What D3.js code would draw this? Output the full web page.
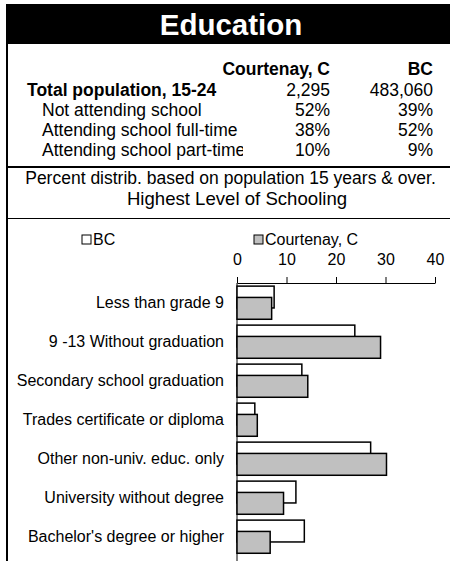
<html>
  <head>
    <meta charset="utf-8">
    <title>Education</title>
    <style>
      body { margin: 0; background: white; }
      svg text { font-family: "Liberation Sans", Arial, Helvetica, sans-serif; fill: black; }
    </style>
    <script src="https://d3js.org/d3.v7.min.js"></script>
  </head>
  <body>
    <svg id="edu"></svg>
    <script>
      // table values
      let rowLabels = ['Total population, 15-24', 'Not attending school',
                       'Attending school full-time', 'Attending school part-time'];
      let courtenayCol = ['2,295', '52%', '38%', '10%'];
      let bcCol = ['483,060', '39%', '52%', '9%'];

      // chart values (percent)
      let categories = ['Less than grade 9', '9 -13 Without graduation', 'Secondary school graduation',
                        'Trades certificate or diploma', 'Other non-univ. educ. only',
                        'University without degree', "Bachelor's degree or higher"];
      let bcValues = [7.5, 23.8, 13.1, 3.6, 27.0, 11.9, 13.6];
      let courtenayValues = [7.0, 29.0, 14.3, 4.1, 30.2, 9.4, 6.7];
      let ticks = [0, 10, 20, 30, 40];

      let width = 450, height = 561;
      let svg = d3.select('#edu').attr('width', width).attr('height', height);

      // title bar
      svg.append('rect').attr('x', 6).attr('y', 4).attr('width', width - 6).attr('height', 40)
        .attr('fill', 'black');
      svg.append('text').attr('x', 231).attr('y', 35).attr('text-anchor', 'middle')
        .style('font-size', '29.5px').style('font-weight', 'bold').style('fill', 'white')
        .text('Education');

      // left border and separators
      svg.append('line').attr('x1', 7).attr('x2', 7).attr('y1', 4).attr('y2', height)
        .attr('stroke', 'black').attr('stroke-width', 2);
      svg.append('line').attr('x1', 6).attr('x2', width).attr('y1', 167).attr('y2', 167)
        .attr('stroke', 'black').attr('stroke-width', 2);
      svg.append('line').attr('x1', 6).attr('x2', width).attr('y1', 218.5).attr('y2', 218.5)
        .attr('stroke', 'black').attr('stroke-width', 1);

      // table
      let col1 = 330, col2 = 433;
      svg.append('text').attr('x', col1).attr('y', 75).attr('text-anchor', 'end')
        .style('font-size', '17.5px').style('font-weight', 'bold').text('Courtenay, C');
      svg.append('text').attr('x', col2).attr('y', 75).attr('text-anchor', 'end')
        .style('font-size', '17.5px').style('font-weight', 'bold').text('BC');

      // the last label is cut off by its cell in the original
      svg.append('clipPath').attr('id', 'cell').append('rect')
        .attr('x', 0).attr('y', 0).attr('width', 243).attr('height', 167);

      rowLabels.forEach(function (label, i) {
        let y = 96 + i * 20;
        let bold = i === 0;
        svg.append('text').attr('x', bold ? 27 : 42).attr('y', y)
          .attr('clip-path', 'url(#cell)')
          .style('font-size', '17.5px').style('font-weight', bold ? 'bold' : 'normal').text(label);
        svg.append('text').attr('x', col1).attr('y', y).attr('text-anchor', 'end')
          .style('font-size', '17.5px').text(courtenayCol[i]);
        svg.append('text').attr('x', col2).attr('y', y).attr('text-anchor', 'end')
          .style('font-size', '17.5px').text(bcCol[i]);
      });

      svg.append('text').attr('x', 230.5).attr('y', 184).attr('text-anchor', 'middle')
        .style('font-size', '17.5px').text('Percent distrib. based on population 15 years & over.');
      svg.append('text').attr('x', 237).attr('y', 205).attr('text-anchor', 'middle')
        .style('font-size', '18.6px').text('Highest Level of Schooling');

      // chart
      let xScale = d3.scaleLinear().domain([0, 40]).range([237, 435]);
      let yScale = d3.scaleBand().domain(categories).range([283, 556]);
      let bw = yScale.bandwidth();

      svg.append('g').attr('transform', 'translate(0,283)')
        .call(d3.axisTop(xScale).tickValues(ticks).tickSize(6).tickSizeOuter(0).tickPadding(12))
        .call(g => g.select('.domain').attr('stroke-width', 1))
        .call(g => g.selectAll('text').style('font-size', '16px')
          .style('font-family', '"Liberation Sans", Arial, sans-serif'));

      svg.append('line').attr('x1', xScale(0)).attr('x2', xScale(0))
        .attr('y1', 283).attr('y2', height).attr('stroke', 'black');

      svg.selectAll('rect.bc').data(bcValues).enter().append('rect').attr('class', 'bc')
        .attr('x', xScale(0))
        .attr('y', (d, i) => yScale(categories[i]) + bw * 0.08)
        .attr('width', d => xScale(d) - xScale(0))
        .attr('height', bw * 0.56)
        .attr('fill', 'white').attr('stroke', 'black').attr('stroke-width', 1.5);

      svg.selectAll('rect.ct').data(courtenayValues).enter().append('rect').attr('class', 'ct')
        .attr('x', xScale(0))
        .attr('y', (d, i) => yScale(categories[i]) + bw * 0.37)
        .attr('width', d => xScale(d) - xScale(0))
        .attr('height', bw * 0.56)
        .attr('fill', '#c0c0c0').attr('stroke', 'black').attr('stroke-width', 1.5);

      svg.selectAll('text.cat').data(categories).enter().append('text').attr('class', 'cat')
        .attr('x', 224).attr('y', d => yScale(d) + bw / 2).attr('dy', '0.35em')
        .attr('text-anchor', 'end').style('font-size', '16px').text(d => d);

      // legend
      let legend = [{ name: 'BC', fill: 'white', x: 82 }, { name: 'Courtenay, C', fill: '#c0c0c0', x: 254 }];
      legend.forEach(function (l) {
        svg.append('rect').attr('x', l.x).attr('y', 235).attr('width', 9).attr('height', 9)
          .attr('fill', l.fill).attr('stroke', 'black').attr('stroke-width', 1);
        svg.append('text').attr('x', l.x + 11).attr('y', 245).style('font-size', '16px').text(l.name);
      });
    </script>
  </body>
</html>
